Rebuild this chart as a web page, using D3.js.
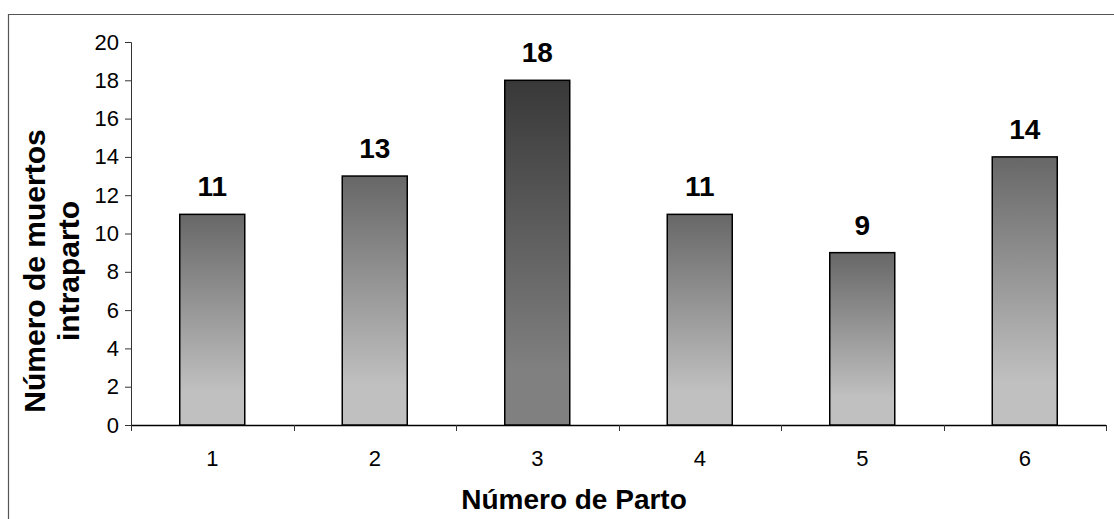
<!DOCTYPE html>
<html>
<head>
<meta charset="utf-8">
<script src="https://cdn.jsdelivr.net/npm/d3@7"></script>
<style>
  html, body { margin: 0; padding: 0; background: #fff; }
  svg { display: block; }
  text { font-family: "Liberation Sans", Arial, sans-serif; fill: #000; }
</style>
</head>
<body>
<svg id="chart" width="1114" height="519"></svg>
<script>
// Intrapartum deaths by birth order
const partos = ["1", "2", "3", "4", "5", "6"];
const muertos = [11, 13, 18, 11, 9, 14];
const highlighted = ["3"];
const yTicks = [0, 2, 4, 6, 8, 10, 12, 14, 16, 18, 20];

const svg = d3.select("#chart");
const W = 1114, H = 519;

const plot = { left: 131, right: 1106, top: 42, bottom: 425 };

// chart frame (continues past the window on the right and bottom)
svg.append("path")
  .attr("d", `M8.5,${H + 5}V14.5H${W + 5}`)
  .attr("fill", "none")
  .attr("stroke", "#555")
  .attr("stroke-width", 1.2);

const defs = svg.append("defs");
function gradient(id, top, bottom) {
  const g = defs.append("linearGradient")
    .attr("id", id).attr("x1", 0).attr("y1", 0).attr("x2", 0).attr("y2", 1);
  g.append("stop").attr("offset", "0%").attr("stop-color", top);
  g.append("stop").attr("offset", "84%").attr("stop-color", bottom);
  g.append("stop").attr("offset", "100%").attr("stop-color", bottom);
}
gradient("gNormal", "#676767", "#c0c0c0");
gradient("gHigh", "#383838", "#808080");

const x = d3.scaleBand().domain(partos).range([plot.left, plot.right]).paddingInner(0.6).paddingOuter(0.3);
const y = d3.scaleLinear().domain([0, 20]).range([plot.bottom, plot.top]);

// y axis
const yAxis = svg.append("g")
  .attr("transform", `translate(${plot.left},0)`)
  .call(d3.axisLeft(y).tickValues(yTicks).tickSize(6).tickPadding(6));
yAxis.select(".domain").attr("stroke", "#333").attr("stroke-width", 1);
yAxis.selectAll(".tick line").attr("stroke", "#333");
yAxis.selectAll(".tick text")
  .style("font-family", '"Liberation Sans", Arial, sans-serif')
  .style("font-size", "22px").attr("fill", "#000");

// x axis: ticks at category boundaries
const bounds = d3.range(partos.length + 1).map(i => plot.left + i * (plot.right - plot.left) / partos.length);
const xg = svg.append("g");
xg.append("line")
  .attr("x1", plot.left).attr("x2", plot.right)
  .attr("y1", plot.bottom + 0.5).attr("y2", plot.bottom + 0.5)
  .attr("stroke", "#000").attr("stroke-width", 1.3);
xg.selectAll("line.tk").data(bounds).join("line")
  .attr("class", "tk")
  .attr("x1", d => Math.round(d) + 0.5).attr("x2", d => Math.round(d) + 0.5)
  .attr("y1", plot.bottom).attr("y2", plot.bottom + 6)
  .attr("stroke", "#333");
xg.selectAll("text").data(partos).join("text")
  .attr("x", d => x(d) + x.bandwidth() / 2)
  .attr("y", 466)
  .attr("text-anchor", "middle")
  .style("font-size", "22px")
  .text(d => d);

// bars
const data = partos.map((p, i) => ({ p, v: muertos[i] }));
svg.append("g").selectAll("rect").data(data).join("rect")
  .attr("x", d => x(d.p))
  .attr("y", d => y(d.v))
  .attr("width", x.bandwidth())
  .attr("height", d => y(0) - y(d.v))
  .attr("fill", d => highlighted.includes(d.p) ? "url(#gHigh)" : "url(#gNormal)")
  .attr("stroke", "#000")
  .attr("stroke-width", 1.5);

// value labels
svg.append("g").selectAll("text").data(data).join("text")
  .attr("x", d => x(d.p) + x.bandwidth() / 2)
  .attr("y", d => y(d.v) - 18)
  .attr("text-anchor", "middle")
  .style("font-size", "28px")
  .style("font-weight", "bold")
  .text(d => d.v);

// axis titles
svg.append("text")
  .attr("x", 574).attr("y", 509)
  .attr("text-anchor", "middle")
  .style("font-size", "28px").style("font-weight", "bold")
  .text("Número de Parto");

const yt = svg.append("text")
  .attr("transform", "translate(0,271) rotate(-90)")
  .attr("text-anchor", "middle")
  .style("font-size", "30px").style("font-weight", "bold");
yt.append("tspan").attr("x", 0).attr("y", 45).text("Número de muertos");
yt.append("tspan").attr("x", 0).attr("y", 79).text("intraparto");
</script>
</body>
</html>
